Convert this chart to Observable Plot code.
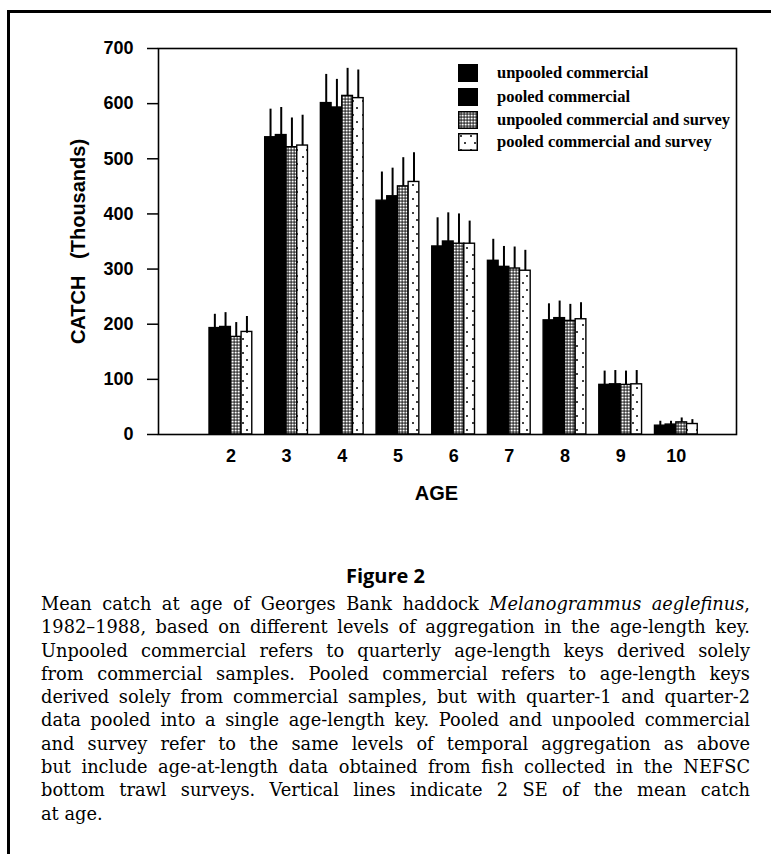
<!DOCTYPE html>
<html>
<head>
<meta charset="utf-8">
<script src="https://cdn.jsdelivr.net/npm/d3@7"></script>
<script src="https://cdn.jsdelivr.net/npm/@observablehq/plot@0.6"></script>
<style>
  html, body { margin: 0; padding: 0; background: #fff; }
  #page { position: relative; width: 771px; height: 854px; overflow: hidden; background: #fff; }
  #pageframe { position: absolute; left: 7px; top: 10px; right: -20px; bottom: -20px;
               border-top: 3px solid #000; border-left: 3px solid #000; }
  #chart { position: absolute; left: 0; top: 0; }
  #chart g[aria-label="y-axis tick"] path { stroke-width: 1.5px; }
  #legend { position: absolute; left: 458px; top: 0; font-family: "Liberation Serif", "Times New Roman", serif;
            font-weight: bold; font-size: 16.5px; color: #000; }
  .lrow { position: absolute; left: 0; height: 18px; white-space: nowrap; display: flex; align-items: center; }
  .lrow svg { display: block; }
  .lrow span { position: absolute; left: 39px; top: 0; line-height: 18px; }
  #figtitle { position: absolute; left: 0; width: 771px; top: 562px; text-align: center;
              font-family: "Open Sans", sans-serif; font-weight: bold; font-size: 20px; line-height: 28px; }
  #caption { position: absolute; left: 41px; width: 709px; top: 592px;
             font-family: "DejaVu Serif", serif; font-size: 17.8px; line-height: 23.3px; }
  .cl { white-space: nowrap; text-align: justify; text-align-last: justify; }
  .cl.last { text-align-last: left; }
</style>
</head>
<body>
<div id="page">
  <svg width="0" height="0" style="position:absolute">
    <defs>
      <pattern id="pStipple" patternUnits="userSpaceOnUse" width="3" height="3">
        <rect width="3" height="3" fill="#000"></rect>
        <rect x="0.5" y="0.5" width="2.2" height="2.1" fill="#fff"></rect>
      </pattern>
      <pattern id="pDots" patternUnits="userSpaceOnUse" width="10" height="14">
        <rect width="10" height="14" fill="#fff"></rect>
        <circle cx="3" cy="3" r="1" fill="#000"></circle>
        <circle cx="7" cy="10" r="1" fill="#000"></circle>
      </pattern>
    </defs>
  </svg>
  <div id="pageframe"></div>
  <div id="chart"></div>
  <div id="legend"></div>
  <div id="figtitle">Figure 2</div>
  <div id="caption"></div>
</div>
<script>
// ---- data ----
const ages = [2, 3, 4, 5, 6, 7, 8, 9, 10];
const yTicks = [0, 100, 200, 300, 400, 500, 600, 700];
const seriesNames = [
  "unpooled commercial",
  "pooled commercial",
  "unpooled commercial and survey",
  "pooled commercial and survey"
];
// mean catch at age (thousands)
const unpooledCommercial       = [193, 539, 601, 424, 341, 315, 207, 90, 16];
const pooledCommercial         = [195, 543, 593, 432, 350, 304, 211, 91, 18];
const unpooledCommercialSurvey = [177, 521, 614, 450, 346, 301, 206, 90, 22];
const pooledCommercialSurvey   = [186, 524, 610, 458, 346, 297, 209, 91, 19];
// top of the 2 SE vertical lines (thousands)
const unpooledCommercialTop       = [218, 590, 653, 476, 393, 354, 237, 115, 24];
const pooledCommercialTop         = [221, 593, 644, 483, 402, 341, 242, 116, 24];
const unpooledCommercialSurveyTop = [203, 574, 664, 502, 400, 340, 236, 115, 30];
const pooledCommercialSurveyTop   = [214, 579, 661, 511, 387, 334, 239, 116, 27];

const captionLines = [
  ["Mean catch at age of Georges Bank haddock ", "<i>Melanogrammus aeglefinus</i>,"],
  ["1982–1988, based on different levels of aggregation in the age-length key."],
  ["Unpooled commercial refers to quarterly age-length keys derived solely"],
  ["from commercial samples. Pooled commercial refers to age-length keys"],
  ["derived solely from commercial samples, but with quarter-1 and quarter-2"],
  ["data pooled into a single age-length key. Pooled and unpooled commercial"],
  ["and survey refer to the same levels of temporal aggregation as above"],
  ["but include age-at-length data obtained from fish collected in the NEFSC"],
  ["bottom trawl surveys. Vertical lines indicate 2 SE of the mean catch"],
  ["at age."]
];

// ---- build table ----
const valuesBySeries = [unpooledCommercial, pooledCommercial, unpooledCommercialSurvey, pooledCommercialSurvey];
const topsBySeries = [unpooledCommercialTop, pooledCommercialTop, unpooledCommercialSurveyTop, pooledCommercialSurveyTop];
const fills = ["#000", "#000", "url(#pStipple)", "url(#pDots)"];
const barW = 0.192; // bar width in age units
const rows = [];
seriesNames.forEach((s, si) => {
  ages.forEach((a, ai) => {
    rows.push({series: s, si, age: a, value: valuesBySeries[si][ai], top: topsBySeries[si][ai]});
  });
});
const cx = d => d.age + (d.si - 1.5) * barW;

const marks = [];
seriesNames.forEach((s, si) => {
  marks.push(Plot.rect(rows.filter(d => d.si === si), {
    x1: d => cx(d) - barW / 2,
    x2: d => cx(d) + barW / 2,
    y1: 0,
    y2: "value",
    fill: fills[si],
    stroke: "#000",
    strokeWidth: 1.4
  }));
});
marks.push(Plot.ruleX(rows, {x: cx, y1: "value", y2: "top", stroke: "#000", strokeWidth: 2}));
marks.push(Plot.frame({stroke: "#000", strokeWidth: 1.6}));
marks.push(Plot.text(["AGE"], {text: d => d, frameAnchor: "bottom", dy: 59, dx: -11,
  textAnchor: "middle", lineAnchor: "middle", fontSize: 20, fontWeight: "bold"}));
marks.push(Plot.text(["CATCH\u00a0\u00a0\u00a0(Thousands)"], {text: d => d, frameAnchor: "left", dx: -80,
  rotate: -90, textAnchor: "middle", lineAnchor: "middle", fontSize: 20, fontWeight: "bold"}));

const chart = Plot.plot({
  width: 771,
  height: 520,
  marginLeft: 158,
  marginRight: 35,
  marginTop: 48,
  marginBottom: 86,
  style: {fontFamily: "'Liberation Sans', Arial, sans-serif", fontSize: "18px", fontWeight: "bold",
          color: "#000", background: "transparent", overflow: "visible"},
  x: {type: "linear", domain: [0.7, 11.08], ticks: ages, tickSize: 0, tickPadding: 15,
      tickFormat: d => String(d), label: null},
  y: {domain: [0, 700], ticks: yTicks, tickSize: 11, tickPadding: 14, label: null},
  marks
});
document.getElementById("chart").appendChild(chart);

// ---- legend (inside the plot area, top right) ----
const legend = document.getElementById("legend");
const rowCenters = [73, 96.5, 119.5, 142];
seriesNames.forEach((s, si) => {
  const r = document.createElement("div");
  r.className = "lrow";
  r.style.top = (rowCenters[si] - 9) + "px";
  r.innerHTML = `<svg width="20" height="18"><rect x="0.75" y="0.75" width="18.5" height="16.5" fill="${fills[si]}" stroke="#000" stroke-width="1.5"></rect></svg><span>${s}</span>`;
  legend.appendChild(r);
});

// ---- caption ----
const cap = document.getElementById("caption");
captionLines.forEach((parts, i) => {
  const d = document.createElement("div");
  d.className = "cl" + (i === captionLines.length - 1 ? " last" : "");
  d.innerHTML = parts.join("");
  cap.appendChild(d);
});
</script>
</body>
</html>
